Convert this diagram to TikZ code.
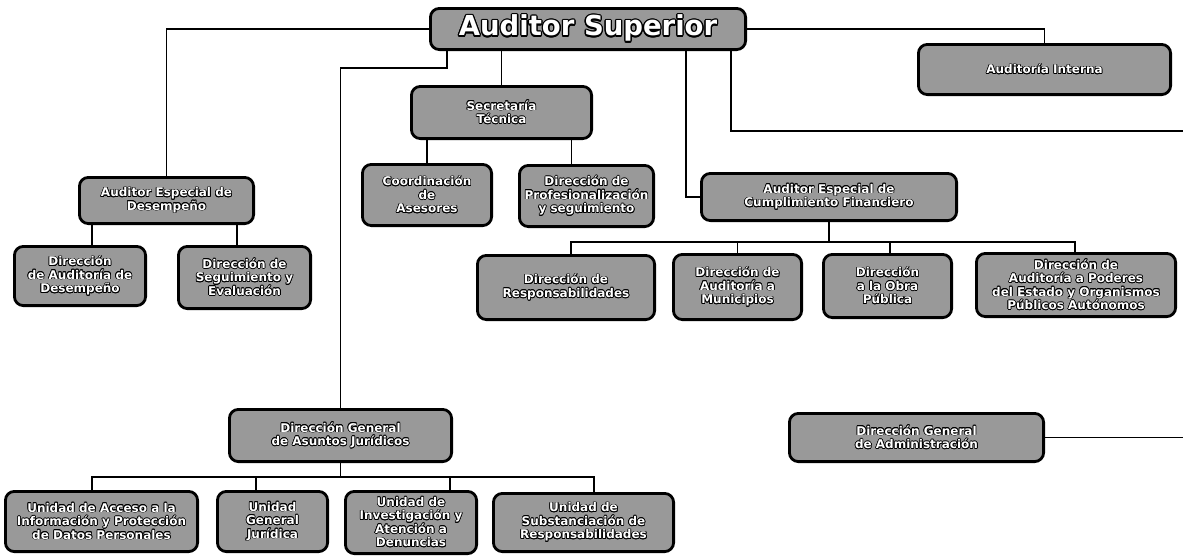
\documentclass[tikz,border=0pt]{standalone}
\usepackage{fontspec}
\setmainfont{DejaVu Sans}
\usepackage[copies]{contour}
\contourlength{0.7pt}
\contournumber{12}
\definecolor{boxgray}{gray}{0.6}
\newcommand{\ol}[1]{\contour{black}{#1}}
\newcommand{\titlefont}{\bfseries\fontsize{27.5}{30}\selectfont}
\begin{document}
\begin{tikzpicture}[x=1pt,y=-1pt,
  box/.style n args={2}{draw=black, line width=2.8pt, rounded corners=9pt,
    fill=boxgray, text=white, align=center, inner sep=0pt,
    minimum width=#1pt-2.8pt, minimum height=#2pt-2.8pt,
    font=\bfseries\fontsize{12}{13.5}\selectfont},
  link/.style={line width=1.3pt, draw=black}]
\useasboundingbox[fill=white] (0,0) rectangle (1183,557);

% nodes
\node[box={318}{44}, font=\titlefont] (sup) at (588,29) {\contourlength{1.3pt}\ol{Auditor Superior}};
\node[box={255}{53}] (aint) at (1044.5,69.5) {\ol{Auditoría Interna}};
\node[box={183}{55}] (sec) at (501.5,112.5) {\ol{Secretaría}\\\ol{Técnica}};
\node[box={132}{64}] (coord) at (427,195) {\ol{Coordinación}\\\ol{de}\\\ol{Asesores}};
\node[box={137}{64}] (prof) at (586.5,196) {\ol{Dirección de}\\\ol{Profesionalización}\\\ol{y seguimiento}};
\node[box={177}{49}] (des) at (166.5,200.5) {\ol{Auditor Especial de}\\\ol{Desempeño}};
\node[box={134}{62}] (dad) at (80,276) {\ol{Dirección}\\\ol{de Auditoría de}\\\ol{Desempeño}};
\node[box={135}{65}] (dse) at (244.5,277.5) {\ol{Dirección de}\\\ol{Seguimiento y}\\\ol{Evaluación}};
\node[box={258}{50}] (cf) at (829,197) {\ol{Auditor Especial de}\\\ol{Cumplimiento Financiero}};
\node[box={180}{67}] (resp) at (566,287.5) {\ol{Dirección de}\\\ol{Responsabilidades}};
\node[box={131}{68}] (mun) at (737.5,287) {\ol{Dirección de}\\\ol{Auditoría a}\\\ol{Municipios}};
\node[box={131}{66}] (obra) at (887.5,286) {\ol{Dirección}\\\ol{a la Obra}\\\ol{Pública}};
\node[box={202}{66}] (pod) at (1076,285) {\ol{Dirección de}\\\ol{Auditoría a Poderes}\\\ol{del Estado y Organismos}\\\ol{Públicos Autónomos}};
\node[box={225}{55}] (jur) at (340.5,435.5) {\ol{Dirección General}\\\ol{de Asuntos Jurídicos}};
\node[box={257}{51}] (adm) at (916.5,437.5) {\ol{Dirección General}\\\ol{de Administración}};
\node[box={195}{63}] (acc) at (101.5,521.5) {\ol{Unidad de Acceso a la}\\\ol{Información y Protección}\\\ol{de Datos Personales}};
\node[box={113}{63}] (ugj) at (272.5,521.5) {\ol{Unidad}\\\ol{General}\\\ol{Jurídica}};
\node[box={134}{65}] (inv) at (411,522.5) {\ol{Unidad de}\\\ol{Investigación y}\\\ol{Atención a}\\\ol{Denuncias}};
\node[box={183}{61}] (sub) at (583.5,522.5) {\ol{Unidad de}\\\ol{Substanciación de}\\\ol{Responsabilidades}};

% connectors from Auditor Superior
\draw[link] (sup.west) -| (des.north);
\draw[link] ([xshift=-141pt]sup.south) -- ++(0,17) -| (jur.north);
\draw[link] (sec.north) -- (sec.north |- sup.south);
\draw[link] (sup.east) -| (aint.north);
\draw[link] ([xshift=98pt]sup.south) |- (cf.west);
\coordinate (edgeA) at (1183,131);
\draw[link] ([xshift=143pt]sup.south) |- (edgeA);
\coordinate (edgeB) at (1183,438);
\draw[link] (adm.east) -- (adm.east -| edgeB);

% Secretaria Tecnica
\draw[link] (coord.north) -- (coord.north |- sec.south);
\coordinate (p1) at ([xshift=-15pt]prof.north);
\draw[link] (p1) -- (p1 |- sec.south);

% Desempeno
\coordinate (d1) at ([xshift=12pt]dad.north);
\draw[link] (d1) -- (d1 |- des.south);
\coordinate (d2) at ([xshift=-7.5pt]dse.north);
\draw[link] (d2) -- (d2 |- des.south);

% Cumplimiento Financiero
\coordinate (cfb) at ([yshift=-20pt]cf.south);
\draw[link] (cf.south) -- (cfb);
\coordinate (c1) at ([xshift=5pt]resp.north);
\coordinate (c2) at (mun.north);
\coordinate (c3) at ([xshift=2.5pt]obra.north);
\coordinate (c4) at ([xshift=-1pt]pod.north);
\draw[link] (cfb) -| (c1);
\draw[link] (cfb) -| (c2);
\draw[link] (cfb) -| (c3);
\draw[link] (cfb) -| (c4);

% Asuntos Juridicos
\coordinate (jb) at ([yshift=-14pt]jur.south);
\draw[link] (jur.south) -- (jb);
\coordinate (j1) at ([xshift=-9.5pt]acc.north);
\coordinate (j2) at ([xshift=-16.5pt]ugj.north);
\coordinate (j3) at ([xshift=39pt]inv.north);
\coordinate (j4) at ([xshift=10.5pt]sub.north);
\draw[link] (jb) -| (j1);
\draw[link] (jb) -| (j2);
\draw[link] (jb) -| (j3);
\draw[link] (jb) -| (j4);
\end{tikzpicture}
\end{document}
